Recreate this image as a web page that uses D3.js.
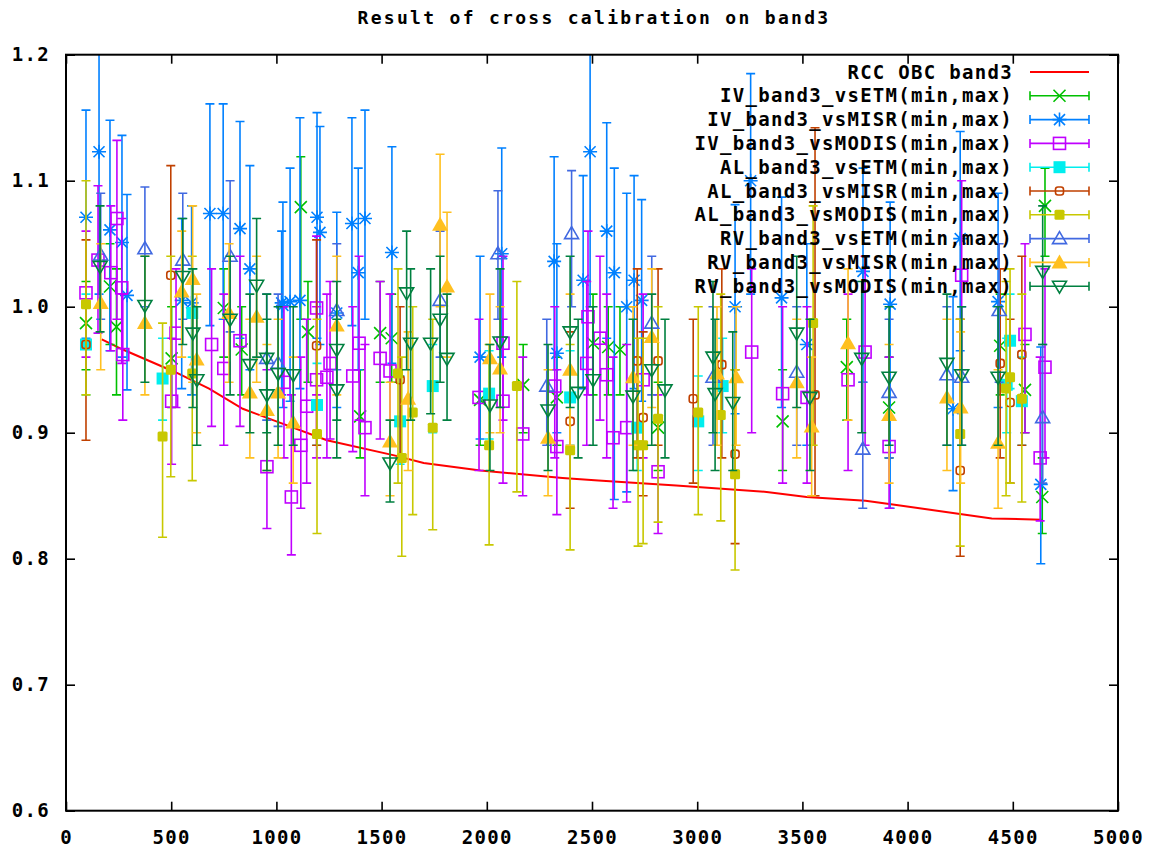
<!DOCTYPE html>
<html lang="en">
<head>
    <meta charset="UTF-8">
    <title>Result of cross calibration on band3</title>
    <script src="https://cdn.jsdelivr.net/npm/d3@7"></script>
    <style>
        body { margin: 0; background: #fff; }
        svg text { font-family: "DejaVu Sans Mono", monospace; font-weight: bold; fill: #000; }
    </style>
</head>
<body>
<svg width="1157" height="852"></svg>
<script>
    // ---- data ----
    var xTicks = [0, 500, 1000, 1500, 2000, 2500, 3000, 3500, 4000, 4500, 5000];
    var yTicks = [0.6, 0.7, 0.8, 0.9, 1.0, 1.1, 1.2];

    var rccX = [170, 270, 520, 680, 840, 1000, 1240, 1560, 1700, 1970, 2360, 2530, 2900, 3330, 3520, 3800, 3930, 4400, 4640];
    var rccY = [0.974, 0.966, 0.948, 0.935, 0.919, 0.909, 0.894, 0.882, 0.876, 0.870, 0.864, 0.862, 0.858, 0.853, 0.849, 0.846, 0.843, 0.832, 0.831];

    // each point: [day, value, min, max]
    var ivEtm = [
        [95, 0.987, 0.95, 1.02], [209, 1.016, 0.97, 1.05], [240, 0.984, 0.93, 1.03], [502, 0.959, 0.92, 1.00],
        [750, 0.999, 0.96, 1.03], [835, 0.966, 0.93, 1.00], [1116, 1.079, 0.99, 1.119], [1150, 0.980, 0.94, 1.02],
        [1398, 0.913, 0.88, 0.95], [1493, 0.979, 0.94, 1.02], [1548, 0.975, 0.94, 1.01], [1968, 0.926, 0.89, 0.96],
        [2173, 0.938, 0.90, 0.97], [2333, 0.928, 0.89, 0.96], [2505, 0.971, 0.93, 1.01], [2577, 0.968, 0.93, 1.00],
        [2633, 0.966, 0.93, 1.00], [2814, 0.904, 0.87, 0.94], [3406, 0.909, 0.87, 0.95], [3711, 0.952, 0.91, 0.99],
        [3912, 0.920, 0.88, 0.96], [4440, 0.969, 0.93, 1.01], [4558, 0.934, 0.90, 0.97], [4640, 0.849, 0.82, 0.88],
        [4653, 1.080, 1.04, 1.11]
    ];
    var ivMisr = [
        [95, 1.071, 0.975, 1.156], [157, 1.123, 1.010, 1.230], [209, 1.061, 0.965, 1.148], [266, 1.051, 0.960, 1.136],
        [290, 1.009, 0.934, 1.089], [550, 1.005, 0.935, 1.070], [597, 1.003, 0.930, 1.080], [684, 1.074, 0.985, 1.161],
        [747, 1.074, 0.990, 1.161], [827, 1.062, 0.975, 1.147], [874, 1.030, 0.950, 1.112], [1025, 1.003, 0.930, 1.060],
        [1031, 1.001, 0.920, 1.083], [1065, 1.004, 0.925, 1.110], [1112, 1.005, 0.935, 1.150], [1193, 1.071, 0.975, 1.154],
        [1207, 1.059, 0.970, 1.143], [1287, 0.995, 0.920, 1.075], [1359, 1.066, 0.985, 1.150], [1389, 1.027, 0.950, 1.110],
        [1421, 1.070, 0.990, 1.156], [1549, 1.043, 0.955, 1.127], [1968, 0.960, 0.895, 1.040], [2071, 1.042, 0.960, 1.126],
        [2320, 1.036, 0.950, 1.119], [2333, 0.963, 0.900, 1.050], [2458, 1.021, 0.935, 1.104], [2491, 1.123, 1.000, 1.230],
        [2570, 1.060, 0.975, 1.146], [2606, 1.027, 0.847, 1.110], [2665, 1.000, 0.853, 1.090], [2700, 1.021, 0.935, 1.104],
        [2736, 1.005, 0.925, 1.085], [3180, 1.000, 0.915, 1.081], [3254, 1.100, 1.010, 1.185], [3401, 1.007, 0.920, 1.087],
        [3521, 0.970, 0.890, 1.050], [3788, 1.028, 0.940, 1.110], [3917, 1.002, 0.840, 1.083], [4216, 0.919, 0.854, 1.008],
        [4250, 1.054, 0.965, 1.139], [4430, 1.004, 0.920, 1.090], [4633, 0.859, 0.796, 0.968]
    ];
    var ivModis = [
        [95, 1.011, 0.960, 1.060], [152, 1.037, 0.979, 1.096], [213, 1.027, 0.965, 1.080], [242, 1.070, 0.990, 1.132],
        [265, 1.015, 0.955, 1.070], [270, 0.962, 0.910, 1.010], [502, 0.925, 0.875, 0.975], [523, 0.979, 0.920, 1.030],
        [692, 0.970, 0.905, 1.030], [750, 0.951, 0.890, 1.010], [827, 0.973, 0.905, 1.040], [955, 0.873, 0.824, 0.950],
        [1036, 0.940, 0.880, 1.000], [1071, 0.849, 0.803, 0.930], [1116, 0.890, 0.840, 0.960], [1144, 0.921, 0.860, 0.990],
        [1191, 0.999, 0.930, 1.056], [1191, 0.942, 0.880, 1.000], [1240, 0.944, 0.880, 1.010], [1255, 0.955, 0.895, 1.020],
        [1363, 0.945, 0.885, 1.000], [1393, 0.971, 0.910, 1.040], [1421, 0.904, 0.850, 0.970], [1493, 0.959, 0.895, 1.020],
        [1540, 0.949, 0.890, 1.010], [1963, 0.928, 0.870, 0.990], [2077, 0.925, 0.860, 0.990], [2077, 0.971, 0.910, 1.040],
        [2171, 0.899, 0.850, 0.960], [2323, 0.937, 0.880, 1.000], [2333, 0.889, 0.835, 0.950], [2475, 0.955, 0.890, 1.020],
        [2481, 0.992, 0.930, 1.060], [2538, 0.975, 0.910, 1.040], [2570, 0.946, 0.880, 1.010], [2600, 0.896, 0.840, 0.960],
        [2665, 0.904, 0.845, 0.970], [2743, 0.942, 0.880, 1.010], [2814, 0.869, 0.820, 0.930], [3259, 0.964, 0.900, 1.030],
        [3406, 0.931, 0.860, 1.000], [3522, 0.928, 0.860, 1.000], [3717, 0.942, 0.870, 1.010], [3798, 0.964, 0.890, 1.040],
        [3912, 0.889, 0.840, 0.960], [4257, 1.025, 0.950, 1.100], [4558, 0.978, 0.900, 1.050], [4630, 0.880, 0.830, 0.960],
        [4653, 0.952, 0.880, 1.030]
    ];
    var alEtm = [
        [95, 0.970, 0.930, 1.010], [459, 0.943, 0.910, 0.975], [600, 0.995, 0.960, 1.030], [1193, 0.922, 0.890, 0.955],
        [1588, 0.909, 0.875, 0.945], [1743, 0.937, 0.900, 0.970], [2011, 0.931, 0.895, 0.965], [2396, 0.928, 0.890, 0.965],
        [2715, 0.904, 0.870, 0.940], [3005, 0.909, 0.870, 0.945], [3121, 0.937, 0.900, 0.975], [4471, 0.938, 0.900, 0.975],
        [4487, 0.973, 0.935, 1.010], [4543, 0.925, 0.890, 0.960]
    ];
    var alMisr = [
        [95, 0.970, 0.894, 1.053], [498, 1.025, 0.950, 1.112], [1191, 0.969, 0.890, 1.053], [1588, 0.942, 0.880, 1.000],
        [2396, 0.909, 0.840, 0.980], [2715, 0.957, 0.880, 1.030], [2743, 0.912, 0.850, 0.980], [2814, 0.957, 0.890, 1.030],
        [2981, 0.927, 0.860, 0.990], [3117, 0.954, 0.880, 1.030], [3180, 0.883, 0.812, 0.950], [3560, 0.930, 0.850, 1.142],
        [4250, 0.870, 0.802, 0.990], [4440, 0.955, 0.880, 1.030], [4487, 0.924, 0.860, 0.990], [4543, 0.962, 0.890, 1.040]
    ];
    var alModis = [
        [95, 1.002, 0.930, 1.100], [459, 0.897, 0.817, 0.987], [498, 0.950, 0.865, 1.040], [600, 0.947, 0.862, 1.040],
        [1193, 0.899, 0.820, 0.990], [1578, 0.947, 0.860, 1.030], [1596, 0.880, 0.802, 0.960], [1648, 0.916, 0.835, 1.000],
        [1743, 0.904, 0.823, 0.990], [2011, 0.890, 0.811, 0.970], [2143, 0.937, 0.853, 1.020], [2396, 0.886, 0.807, 0.970],
        [2719, 0.890, 0.810, 0.975], [2743, 0.890, 0.812, 0.975], [2814, 0.911, 0.829, 1.000], [3005, 0.916, 0.835, 1.000],
        [3112, 0.914, 0.830, 1.010], [3180, 0.867, 0.791, 0.950], [3551, 0.987, 0.890, 1.080], [4250, 0.899, 0.810, 0.990],
        [4468, 0.935, 0.850, 1.020], [4487, 0.944, 0.860, 1.030], [4543, 0.927, 0.845, 1.010]
    ];
    var rvEtm = [
        [165, 1.041, 0.990, 1.090], [375, 1.046, 1.000, 1.095], [555, 1.037, 0.990, 1.090], [780, 1.040, 0.980, 1.100],
        [954, 0.959, 0.910, 1.010], [1008, 0.955, 0.905, 1.010], [1287, 0.997, 0.950, 1.050], [1778, 1.005, 0.960, 1.060],
        [2053, 1.042, 0.990, 1.092], [2285, 0.937, 0.890, 0.990], [2403, 1.058, 1.000, 1.108], [2784, 0.987, 0.930, 1.040],
        [3075, 0.944, 0.890, 1.000], [3473, 0.948, 0.890, 1.000], [3787, 0.887, 0.840, 0.940], [3912, 0.932, 0.880, 0.990],
        [4187, 0.946, 0.890, 1.000], [4257, 0.944, 0.890, 1.000], [4435, 0.997, 0.940, 1.050], [4642, 0.912, 0.860, 0.970]
    ];
    var rvMisr = [
        [165, 1.003, 0.950, 1.050], [375, 0.987, 0.930, 1.040], [550, 1.012, 0.960, 1.060], [602, 1.022, 0.940, 1.080],
        [621, 0.958, 0.900, 1.010], [775, 0.995, 0.940, 1.050], [874, 0.932, 0.880, 0.990], [906, 0.992, 0.940, 1.040],
        [955, 0.918, 0.870, 0.970], [1008, 0.932, 0.880, 0.990], [1080, 0.908, 0.860, 0.960], [1287, 0.985, 0.930, 1.040],
        [1540, 0.893, 0.850, 0.940], [1626, 0.927, 0.870, 0.980], [1778, 1.065, 1.000, 1.121], [1811, 1.016, 0.960, 1.075],
        [2015, 0.959, 0.900, 1.010], [2063, 0.951, 0.900, 1.000], [2291, 0.896, 0.850, 0.950], [2396, 0.950, 0.890, 1.010],
        [2695, 0.944, 0.890, 1.000], [2784, 0.976, 0.920, 1.030], [3094, 0.947, 0.890, 1.000], [3185, 0.944, 0.890, 1.000],
        [3473, 0.940, 0.880, 0.990], [3544, 0.905, 0.850, 0.960], [3717, 0.971, 0.910, 1.030], [3912, 0.914, 0.860, 0.970],
        [4187, 0.928, 0.870, 0.990], [4252, 0.920, 0.860, 0.980], [4430, 0.892, 0.840, 0.950]
    ];
    var rvModis = [
        [162, 1.032, 0.980, 1.080], [375, 1.001, 0.940, 1.040], [555, 1.024, 0.970, 1.070], [603, 0.979, 0.920, 1.030],
        [622, 0.942, 0.890, 1.000], [780, 0.990, 0.930, 1.040], [874, 0.954, 0.900, 1.010], [906, 1.017, 0.960, 1.070],
        [954, 0.959, 0.900, 1.010], [955, 0.930, 0.870, 0.990], [1008, 0.947, 0.890, 1.000], [1080, 0.946, 0.890, 1.000],
        [1287, 0.966, 0.910, 1.020], [1287, 0.934, 0.880, 0.990], [1540, 0.876, 0.845, 0.910], [1619, 1.011, 0.950, 1.060],
        [1638, 0.971, 0.910, 1.030], [1733, 0.971, 0.915, 1.030], [1778, 0.990, 0.940, 1.040], [1811, 0.959, 0.910, 1.010],
        [2015, 0.922, 0.870, 0.970], [2063, 0.972, 0.920, 1.030], [2291, 0.918, 0.870, 0.970], [2396, 0.980, 0.920, 1.040],
        [2434, 0.932, 0.880, 0.990], [2505, 0.942, 0.890, 1.000], [2695, 0.929, 0.870, 0.990], [2784, 0.950, 0.890, 1.010],
        [2847, 0.934, 0.880, 0.990], [3075, 0.960, 0.900, 1.020], [3085, 0.931, 0.870, 0.990], [3169, 0.924, 0.870, 0.980],
        [3473, 0.979, 0.920, 1.040], [3536, 0.928, 0.870, 0.990], [3782, 0.959, 0.900, 1.020], [3912, 0.944, 0.890, 1.000],
        [4187, 0.955, 0.890, 1.010], [4257, 0.946, 0.890, 1.000], [4430, 0.944, 0.890, 1.000], [4642, 1.028, 0.970, 1.080]
    ];

    var seriesNames = ["IV_band3_vsETM(min,max)", "IV_band3_vsMISR(min,max)", "IV_band3_vsMODIS(min,max)",
        "AL_band3_vsETM(min,max)", "AL_band3_vsMISR(min,max)", "AL_band3_vsMODIS(min,max)",
        "RV_band3_vsETM(min,max)", "RV_band3_vsMISR(min,max)", "RV_band3_vsMODIS(min,max)"];
    var seriesData = [ivEtm, ivMisr, ivModis, alEtm, alMisr, alModis, rvEtm, rvMisr, rvModis];

    // ---- styles ----
    var colors = ["#00c000", "#0080ff", "#c000ff", "#00eeee", "#c04000", "#c8c800", "#4169e1", "#ffc020", "#008040"];
    var markers = ["x", "star", "box", "boxf", "circ", "dotf", "tri", "trif", "tridn"];

    var svg = d3.select("svg");
    var margin = {top: 54.7, right: 39, bottom: 41.3, left: 66};
    var width = 1157, height = 852;

    var x = d3.scaleLinear().domain([0, 5000]).range([margin.left, width - margin.right]);
    var y = d3.scaleLinear().domain([0.6, 1.2]).range([height - margin.bottom, margin.top]);

    svg.append("clipPath").attr("id", "plotclip")
        .append("rect")
        .attr("x", x(0)).attr("y", y(1.2))
        .attr("width", x(5000) - x(0)).attr("height", y(0.6) - y(1.2));

    // title
    svg.append("text")
        .attr("x", 594).attr("y", 24)
        .attr("text-anchor", "middle")
        .style("font-size", "18px")
        .style("letter-spacing", "2.3px")
        .text("Result of cross calibration on band3");

    // axes: inner ticks on all four sides, labels bottom and left only
    function styleAxis(g) {
        g.selectAll("path").remove();
        g.selectAll("line").attr("stroke", "#000").attr("stroke-width", 1.6);
        g.selectAll("text").style("font-size", "19px").style("letter-spacing", "1.3px")
            .style("font-family", "'DejaVu Sans Mono', monospace").style("font-weight", "bold");
    }

    svg.append("g").attr("transform", "translate(0," + y(0.6) + ")")
        .call(d3.axisBottom(x).tickValues(xTicks).tickSize(-9).tickPadding(20).tickFormat(d3.format("d")))
        .call(styleAxis);
    svg.append("g").attr("transform", "translate(0," + y(1.2) + ")")
        .call(d3.axisTop(x).tickValues(xTicks).tickSize(-9).tickFormat(""))
        .call(styleAxis);
    svg.append("g").attr("transform", "translate(" + x(0) + ",0)")
        .call(d3.axisLeft(y).tickValues(yTicks).tickSize(-9).tickPadding(16).tickFormat(d3.format(".1f")))
        .call(styleAxis);
    svg.append("g").attr("transform", "translate(" + x(5000) + ",0)")
        .call(d3.axisRight(y).tickValues(yTicks).tickSize(-9).tickFormat(""))
        .call(styleAxis);

    var plot = svg.append("g").attr("clip-path", "url(#plotclip)");

    // RCC OBC line
    var rcc = rccX.map(function (d, i) { return [d, rccY[i]]; });
    var line = d3.line().x(function (d) { return x(d[0]); }).y(function (d) { return y(d[1]); });
    plot.append("path").datum(rcc)
        .attr("d", line)
        .attr("fill", "none")
        .attr("stroke", "#ff0000")
        .attr("stroke-width", 2);

    function drawMarker(g, type, color) {
        var sw = 1.6;
        if (type === "x") {
            g.append("path").attr("d", "M-6,-6L6,6M-6,6L6,-6").attr("stroke", color).attr("stroke-width", sw);
        } else if (type === "star") {
            g.append("path").attr("d", "M-7,0H7M0,-7V7M-5.5,-5.5L5.5,5.5M-5.5,5.5L5.5,-5.5")
                .attr("stroke", color).attr("stroke-width", sw);
        } else if (type === "box") {
            g.append("rect").attr("x", -6).attr("y", -6).attr("width", 12).attr("height", 12)
                .attr("fill", "none").attr("stroke", color).attr("stroke-width", sw);
        } else if (type === "boxf") {
            g.append("rect").attr("x", -6).attr("y", -6).attr("width", 12).attr("height", 12).attr("fill", color);
        } else if (type === "circ") {
            g.append("rect").attr("x", -4).attr("y", -4).attr("width", 8).attr("height", 8).attr("rx", 2.5)
                .attr("fill", "none").attr("stroke", color).attr("stroke-width", sw);
        } else if (type === "dotf") {
            g.append("rect").attr("x", -5).attr("y", -5).attr("width", 10).attr("height", 10).attr("rx", 1.5)
                .attr("fill", color);
        } else if (type === "tri") {
            g.append("path").attr("d", "M0,-7L7,5H-7Z").attr("fill", "none").attr("stroke", color).attr("stroke-width", sw);
        } else if (type === "trif") {
            g.append("path").attr("d", "M0,-8L8,6H-8Z").attr("fill", color);
        } else if (type === "tridn") {
            g.append("path").attr("d", "M0,7L7,-5H-7Z").attr("fill", "none").attr("stroke", color).attr("stroke-width", sw);
        }
    }

    // error bars + markers, series in plotting order
    seriesData.forEach(function (data, s) {
        var g = plot.append("g").attr("class", "series" + s);
        var pts = g.selectAll("g.pt").data(data).enter().append("g").attr("class", "pt");
        pts.append("path")
            .attr("d", function (d) {
                var cx = x(d[0]), lo = y(d[2]), hi = y(d[3]);
                return "M" + cx + "," + lo + "V" + hi +
                    "M" + (cx - 4.5) + "," + lo + "H" + (cx + 4.5) +
                    "M" + (cx - 4.5) + "," + hi + "H" + (cx + 4.5);
            })
            .attr("fill", "none")
            .attr("stroke", colors[s])
            .attr("stroke-width", 1.6);
        pts.each(function (d) {
            var m = d3.select(this).append("g")
                .attr("transform", "translate(" + x(d[0]) + "," + y(d[1]) + ")");
            drawMarker(m, markers[s], colors[s]);
        });
    });

    // legend
    var legX = 1013, sampleL = 1030, sampleR = 1089, legY0 = 72, legStep = 23.8;
    var legend = svg.append("g");
    legend.append("text").attr("x", legX).attr("y", legY0).attr("dy", "0.35em")
        .attr("text-anchor", "end").style("font-size", "19px").style("letter-spacing", "1.3px")
        .text("RCC OBC band3");
    legend.append("line").attr("x1", sampleL).attr("x2", sampleR).attr("y1", legY0).attr("y2", legY0)
        .attr("stroke", "#ff0000").attr("stroke-width", 2);
    seriesNames.forEach(function (name, s) {
        var ly = legY0 + (s + 1) * legStep;
        legend.append("text").attr("x", legX).attr("y", ly).attr("dy", "0.35em")
            .attr("text-anchor", "end").style("font-size", "19px").style("letter-spacing", "1.3px")
            .text(name);
        legend.append("path")
            .attr("d", "M" + sampleL + "," + ly + "H" + sampleR +
                "M" + sampleL + "," + (ly - 4.5) + "V" + (ly + 4.5) +
                "M" + sampleR + "," + (ly - 4.5) + "V" + (ly + 4.5))
            .attr("fill", "none").attr("stroke", colors[s]).attr("stroke-width", 1.6);
        var m = legend.append("g").attr("transform", "translate(" + ((sampleL + sampleR) / 2) + "," + ly + ")");
        drawMarker(m, markers[s], colors[s]);
    });

    // border on top
    svg.append("rect")
        .attr("x", x(0)).attr("y", y(1.2))
        .attr("width", x(5000) - x(0)).attr("height", y(0.6) - y(1.2))
        .attr("fill", "none").attr("stroke", "#000").attr("stroke-width", 2);
</script>
</body>
</html>
